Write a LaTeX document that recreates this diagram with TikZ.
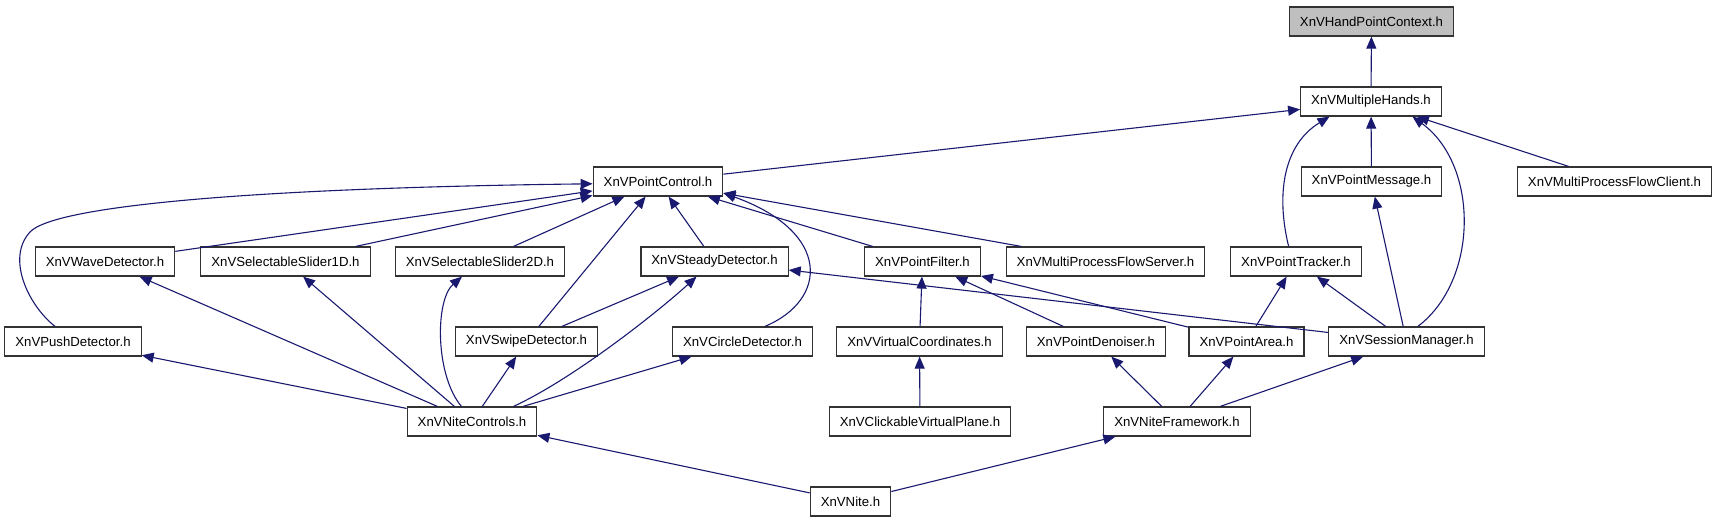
\documentclass[tikz,border=0pt]{standalone}
\usepackage{fontspec}
\setmainfont{Liberation Sans}
\usepackage{tikz}
\usetikzlibrary{arrows.meta}
\usepackage{xcolor}
\definecolor{edgeblue}{HTML}{191970}

\begin{document}
\begin{tikzpicture}[x=1pt, y=-1pt,
        header/.style={draw=black!80, line width=1.2pt, fill=white, minimum height=29pt,
                        inner xsep=10.5pt, inner ysep=0pt, font=\fontsize{13.2}{15}\selectfont},
        arrow/.style={-{Triangle[length=12pt, width=10pt]}, edgeblue, line width=1.1pt}
    ]
    \useasboundingbox (0,0) rectangle (1717,523);

    % ---- HandPointContext e MultipleHands ----
    \node[header, fill=black!25] (hpc) at (1371.5, 21.5) {XnVHandPointContext.h};
    \node[header] (mh) at (1371, 101.5) {XnVMultipleHands.h};

    % ---- linha 2 ----
    \node[header] (pc) at (658, 181.5) {XnVPointControl.h};
    \node[header] (pmsg) at (1371.5, 181.5) {XnVPointMessage.h};
    \node[header] (mpfc) at (1614.5, 181.5) {XnVMultiProcessFlowClient.h};

    % ---- linha 3 ----
    \node[header] (wave) at (105, 261.5) {XnVWaveDetector.h};
    \node[header] (sl1) at (285.5, 261.5) {XnVSelectableSlider1D.h};
    \node[header] (sl2) at (480, 261.5) {XnVSelectableSlider2D.h};
    \node[header] (steady) at (714.5, 261.5) {XnVSteadyDetector.h};
    \node[header] (pfilt) at (922.5, 261.5) {XnVPointFilter.h};
    \node[header] (mpfs) at (1105.5, 261.5) {XnVMultiProcessFlowServer.h};
    \node[header] (ptrack) at (1296, 261.5) {XnVPointTracker.h};

    % ---- linha 4 ----
    \node[header] (push) at (73, 341.5) {XnVPushDetector.h};
    \node[header] (swipe) at (526.5, 341.5) {XnVSwipeDetector.h};
    \node[header] (circle) at (742.5, 341.5) {XnVCircleDetector.h};
    \node[header] (vcoord) at (919.5, 341.5) {XnVVirtualCoordinates.h};
    \node[header] (denoise) at (1096, 341.5) {XnVPointDenoiser.h};
    \node[header] (parea) at (1246.5, 341.5) {XnVPointArea.h};
    \node[header] (sess) at (1406.5, 341.5) {XnVSessionManager.h};

    % ---- linha 5 e 6 ----
    \node[header] (nctrl) at (472, 421.5) {XnVNiteControls.h};
    \node[header] (cvp) at (920, 421.5) {XnVClickableVirtualPlane.h};
    \node[header] (nfw) at (1177, 421.5) {XnVNiteFramework.h};
    \node[header] (nite) at (850.5, 501.5) {XnVNite.h};

    % Setas: HandPointContext e MultipleHands
    \draw[arrow] (mh) -- (hpc);
    \draw[arrow] (pc) -- (mh);
    \draw[arrow] (pmsg) -- (mh);
    \draw[arrow] (mpfc) -- (mh);
    \draw[arrow] (ptrack.116) .. controls (1276,195) and (1283,145) .. (mh.200);
    \draw[arrow] (sess.53) .. controls (1479,280) and (1479,165) .. (mh.340);

    % Setas: PointControl
    \draw[arrow] (push.140) .. controls (28,305) and (6,258) .. (30,232)
                 .. controls (54,206) and (250,188) .. (pc.182);
    \draw[arrow] (wave) -- (pc);
    \draw[arrow] (sl1) -- (pc);
    \draw[arrow] (sl2) -- (pc);
    \draw[arrow] (swipe) -- (pc);
    \draw[arrow] (steady) -- (pc);
    \draw[arrow] (circle.34) .. controls (828,300) and (832,232) .. (pc.-10);
    \draw[arrow] (pfilt) -- (pc);
    \draw[arrow] (mpfs) -- (pc);

    % Setas: detectores, filtros e tracker
    \draw[arrow] (sess) -- (steady);
    \draw[arrow] (swipe) -- (steady);
    \draw[arrow] (vcoord) -- (pfilt);
    \draw[arrow] (denoise) -- (pfilt);
    \draw[arrow] (parea) -- (pfilt);
    \draw[arrow] (parea) -- (ptrack);
    \draw[arrow] (sess) -- (ptrack);
    \draw[arrow] (sess) -- (pmsg);
    \draw[arrow] (cvp) -- (vcoord);

    % Setas: NiteControls
    \draw[arrow] (nctrl) -- (wave);
    \draw[arrow] (nctrl) -- (sl1);
    \draw[arrow] (nctrl.125) .. controls (435,375) and (435,300) .. (sl2.220);
    \draw[arrow] (nctrl) -- (push);
    \draw[arrow] (nctrl) -- (swipe);
    \draw[arrow] (nctrl.20) .. controls (575,378) and (660,310) .. (steady.220);
    \draw[arrow] (nctrl) -- (circle);

    % Setas: NiteFramework e Nite
    \draw[arrow] (nfw) -- (denoise);
    \draw[arrow] (nfw) -- (parea);
    \draw[arrow] (nfw) -- (sess);
    \draw[arrow] (nite) -- (nctrl);
    \draw[arrow] (nite) -- (nfw);

\end{tikzpicture}
\end{document}
